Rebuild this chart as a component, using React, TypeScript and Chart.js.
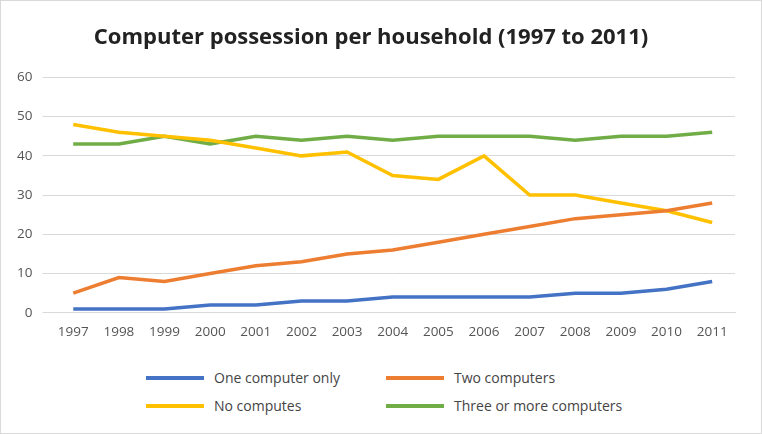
import React, { useEffect, useRef } from "react";
import { Chart, registerables } from "chart.js";
Chart.register(...registerables);

const years = ["1997","1998","1999","2000","2001","2002","2003","2004","2005","2006","2007","2008","2009","2010","2011"];
const oneComputer = [1,1,1,2,2,3,3,4,4,4,4,5,5,6,8];
const twoComputers = [5,9,8,10,12,13,15,16,18,20,22,24,25,26,28];
const noComputers = [48,46,45,44,42,40,41,35,34,40,30,30,28,26,23];
const threeOrMore = [43,43,45,43,45,44,45,44,45,45,45,44,45,45,46];

const series = [
  { label: "One computer only", data: oneComputer, color: "#4472C4" },
  { label: "Two computers", data: twoComputers, color: "#ED7D31" },
  { label: "No computes", data: noComputers, color: "#FFC000" },
  { label: "Three or more computers", data: threeOrMore, color: "#70AD47" },
];
const font = "'Open Sans', 'Liberation Sans', sans-serif";

export default function App() {
  const ref = useRef<HTMLCanvasElement>(null);
  useEffect(() => {
    const chart = new Chart(ref.current!, {
      type: "line",
      data: {
        labels: years,
        datasets: series.map(s => ({
          label: s.label, data: s.data, borderColor: s.color, backgroundColor: s.color,
          borderWidth: 3.5, pointRadius: 0, tension: 0,
        })),
      },
      options: {
        animation: false, responsive: false,
        layout: { padding: { left: 6, right: 26, top: 10, bottom: 0 } },
        plugins: {
          legend: { display: false },
          title: { display: true, text: "Computer possession per household (1997 to 2011)", color: "#222",
            font: { family: font, size: 22, weight: "bold" }, padding: { top: 14, bottom: 26 } },
          tooltip: { enabled: false },
        },
        scales: {
          x: { offset: true, grid: { display: false }, border: { color: "#d9d9d9" },
            ticks: { color: "#555", font: { family: font, size: 13.5 } } },
          y: { min: 0, max: 60, grid: { color: "#d9d9d9" }, border: { display: false },
            ticks: { stepSize: 10, color: "#555", padding: 10, font: { family: font, size: 13.5 } } },
        },
      },
    });
    return () => chart.destroy();
  }, []);
  const item = (i: number, left: number, top: number) => (
    <div key={i} style={{ position: "absolute", left, top, display: "flex", alignItems: "center", fontFamily: font, fontSize: 14, color: "#444" }}>
      <span style={{ display: "inline-block", width: 58, height: 4, background: series[i].color, marginRight: 10 }} />
      {series[i].label}
    </div>
  );
  return (
    <div style={{ position: "fixed", left: 0, top: 0, width: 760, height: 432, border: "1px solid #d9d9d9", background: "#fff" }}>
      <canvas ref={ref} width={760} height={342} />
      {item(0, 145, 367)}
      {item(1, 385, 367)}
      {item(2, 145, 395)}
      {item(3, 385, 395)}
    </div>
  );
}
